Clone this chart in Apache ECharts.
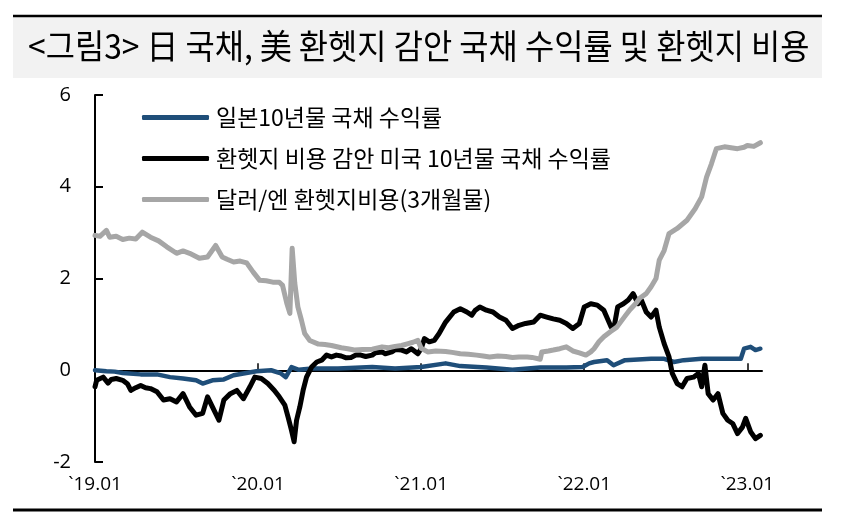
<!DOCTYPE html>
<html>
<head>
<meta charset="utf-8">
<script src="https://cdn.jsdelivr.net/npm/echarts@6/dist/echarts.min.js"></script>
<style>
  html, body { margin: 0; padding: 0; background: #fff; }
  #chart { width: 863px; height: 516px; }
</style>
</head>
<body>
<div id="chart"></div>
<script>
// x = decimal year, y = %
const yearTicks = [2019, 2020, 2021, 2022, 2023];
const seriesNames = ["일본10년물 국채 수익률", "환헷지 비용 감안 미국 10년물 국채 수익률", "달러/엔 환헷지비용(3개월물)"];

const jgbX = [2019.00, 2019.07, 2019.12, 2019.17, 2019.28, 2019.38, 2019.46, 2019.54, 2019.62, 2019.66,
  2019.72, 2019.79, 2019.85, 2019.91, 2019.99, 2020.08, 2020.14, 2020.17, 2020.205, 2020.25,
  2020.33, 2020.49, 2020.70, 2020.84, 2021.00, 2021.15, 2021.24, 2021.40, 2021.56, 2021.73,
  2021.89, 2021.99, 2022.03, 2022.06, 2022.14, 2022.18, 2022.25, 2022.41, 2022.49, 2022.55,
  2022.61, 2022.72, 2022.82, 2022.96, 2022.98, 2023.02, 2023.05, 2023.08];
const jgbY = [0.00, -0.02, -0.03, -0.06, -0.09, -0.09, -0.15, -0.18, -0.22, -0.29,
  -0.22, -0.20, -0.11, -0.07, -0.02, 0.00, -0.07, -0.15, 0.07, 0.01,
  0.04, 0.04, 0.07, 0.04, 0.07, 0.15, 0.09, 0.06, 0.01, 0.06,
  0.06, 0.07, 0.15, 0.18, 0.22, 0.11, 0.22, 0.25, 0.25, 0.18,
  0.22, 0.25, 0.25, 0.25, 0.47, 0.51, 0.44, 0.47];

const usHedgedX = [2019.00, 2019.01, 2019.05, 2019.08, 2019.10, 2019.13, 2019.17, 2019.20, 2019.22, 2019.25,
  2019.28, 2019.31, 2019.34, 2019.38, 2019.42, 2019.46, 2019.50, 2019.54, 2019.58, 2019.62,
  2019.66, 2019.69, 2019.72, 2019.76, 2019.79, 2019.83, 2019.87, 2019.91, 2019.95, 2019.98,
  2020.02, 2020.06, 2020.10, 2020.13, 2020.164, 2020.184, 2020.205, 2020.221, 2020.236, 2020.256,
  2020.276, 2020.297, 2020.328, 2020.36, 2020.39, 2020.42, 2020.45, 2020.48, 2020.51, 2020.54,
  2020.57, 2020.60, 2020.63, 2020.66, 2020.70, 2020.72, 2020.76, 2020.78, 2020.82, 2020.84,
  2020.88, 2020.91, 2020.94, 2020.98, 2021.00, 2021.02, 2021.05, 2021.08, 2021.11, 2021.15,
  2021.20, 2021.24, 2021.28, 2021.31, 2021.33, 2021.36, 2021.40, 2021.44, 2021.48, 2021.52,
  2021.56, 2021.60, 2021.64, 2021.69, 2021.73, 2021.77, 2021.81, 2021.85, 2021.89, 2021.93,
  2021.97, 2022.00, 2022.04, 2022.08, 2022.12, 2022.165, 2022.185, 2022.205, 2022.24, 2022.27,
  2022.30, 2022.33, 2022.35, 2022.38, 2022.41, 2022.44, 2022.46, 2022.49, 2022.52, 2022.54,
  2022.57, 2022.60, 2022.63, 2022.67, 2022.70, 2022.72, 2022.74, 2022.76, 2022.79, 2022.82,
  2022.85, 2022.88, 2022.91, 2022.94, 2022.97, 2022.99, 2023.02, 2023.05, 2023.08];
const usHedgedY = [-0.36, -0.22, -0.15, -0.28, -0.20, -0.18, -0.22, -0.30, -0.44, -0.38,
  -0.33, -0.38, -0.40, -0.47, -0.65, -0.62, -0.69, -0.51, -0.80, -0.98,
  -0.94, -0.58, -0.80, -1.09, -0.65, -0.51, -0.44, -0.62, -0.36, -0.15,
  -0.18, -0.29, -0.44, -0.58, -0.76, -1.02, -1.31, -1.56, -1.09, -0.80,
  -0.44, -0.15, 0.07, 0.18, 0.22, 0.33, 0.29, 0.33, 0.31, 0.27,
  0.28, 0.33, 0.33, 0.30, 0.33, 0.38, 0.40, 0.36, 0.40, 0.45,
  0.44, 0.40, 0.47, 0.36, 0.47, 0.69, 0.62, 0.65, 0.80, 1.05,
  1.27, 1.34, 1.27, 1.20, 1.30, 1.38, 1.31, 1.27, 1.16, 1.09,
  0.91, 0.98, 1.02, 1.05, 1.20, 1.16, 1.12, 1.09, 1.02, 0.91,
  1.02, 1.38, 1.45, 1.42, 1.31, 0.94, 0.98, 1.38, 1.45, 1.53,
  1.67, 1.45, 1.53, 1.27, 1.16, 1.31, 0.94, 0.58, 0.29, -0.07,
  -0.29, -0.36, -0.18, -0.15, -0.07, -0.36, 0.11, -0.51, -0.65, -0.51,
  -0.94, -1.09, -1.16, -1.38, -1.24, -1.05, -1.34, -1.49, -1.42];

const hedgeCostX = [2019.00, 2019.03, 2019.07, 2019.09, 2019.13, 2019.17, 2019.21, 2019.25, 2019.29, 2019.34,
  2019.39, 2019.44, 2019.50, 2019.54, 2019.58, 2019.64, 2019.69, 2019.74, 2019.78, 2019.81,
  2019.85, 2019.89, 2019.93, 2019.97, 2020.01, 2020.05, 2020.09, 2020.13, 2020.15, 2020.176,
  2020.195, 2020.209, 2020.225, 2020.244, 2020.266, 2020.286, 2020.317, 2020.37, 2020.41, 2020.45,
  2020.51, 2020.55, 2020.59, 2020.64, 2020.70, 2020.76, 2020.80, 2020.84, 2020.88, 2020.92,
  2020.95, 2020.98, 2021.00, 2021.04, 2021.09, 2021.15, 2021.19, 2021.24, 2021.29, 2021.34,
  2021.38, 2021.42, 2021.47, 2021.52, 2021.56, 2021.60, 2021.65, 2021.68, 2021.73, 2021.74,
  2021.78, 2021.81, 2021.85, 2021.89, 2021.93, 2021.97, 2022.01, 2022.04, 2022.06, 2022.09,
  2022.12, 2022.16, 2022.20, 2022.25, 2022.28, 2022.32, 2022.34, 2022.38, 2022.41, 2022.44,
  2022.46, 2022.49, 2022.52, 2022.57, 2022.63, 2022.68, 2022.72, 2022.75, 2022.78, 2022.81,
  2022.86, 2022.90, 2022.94, 2022.98, 2023.00, 2023.04, 2023.08];
const hedgeCostY = [2.94, 2.92, 3.05, 2.90, 2.92, 2.85, 2.88, 2.86, 3.01, 2.90,
  2.82, 2.69, 2.55, 2.60, 2.55, 2.44, 2.47, 2.72, 2.47, 2.42,
  2.36, 2.38, 2.34, 2.14, 1.96, 1.95, 1.92, 1.92, 1.85, 1.46,
  1.24, 2.66, 1.90, 1.38, 1.09, 0.80, 0.65, 0.57, 0.56, 0.54,
  0.49, 0.47, 0.44, 0.45, 0.46, 0.51, 0.49, 0.52, 0.54, 0.58,
  0.61, 0.65, 0.48, 0.40, 0.42, 0.41, 0.39, 0.36, 0.35, 0.33,
  0.31, 0.29, 0.31, 0.30, 0.28, 0.29, 0.29, 0.28, 0.24, 0.40,
  0.42, 0.44, 0.47, 0.51, 0.42, 0.38, 0.33, 0.40, 0.47, 0.62,
  0.73, 0.84, 0.94, 1.18, 1.32, 1.47, 1.57, 1.67, 1.82, 2.00,
  2.40, 2.61, 2.98, 3.09, 3.27, 3.52, 3.78, 4.21, 4.50, 4.83,
  4.87, 4.85, 4.83, 4.86, 4.90, 4.88, 4.96];

function zip(xs, ys) {
  return xs.map((x, i) => [x, ys[i]]);
}

const chart = echarts.init(document.getElementById("chart"), null, { renderer: "canvas" });

const titleText = "<그림3> 日 국채, 美 환헷지 감안 국채 수익률 및 환헷지 비용";
const numFont = "'Open Sans', 'Noto Sans CJK KR', sans-serif";
const krFont = "'Noto Sans CJK KR', sans-serif";

const lineSeries = (name, data, color, width) => ({
  name: name,
  type: "line",
  data: data,
  showSymbol: false,
  symbol: "none",
  smooth: false,
  lineStyle: { color: color, width: width, cap: "round", join: "round" },
  itemStyle: { color: color },
  emphasis: { disabled: true },
  animation: false
});

chart.setOption({
  backgroundColor: "#fff",
  animation: false,
  graphic: [
    { type: "rect", shape: { x: 13, y: 17, width: 809, height: 61 }, style: { fill: "#F2F2F2" } },
    { type: "line", shape: { x1: 13, y1: 16, x2: 822, y2: 16 }, style: { stroke: "#000", lineWidth: 2.5 } },
    { type: "line", shape: { x1: 13, y1: 510, x2: 822, y2: 510 }, style: { stroke: "#000", lineWidth: 3 } },
    {
      type: "group", x: 28, y: 46, scaleX: 0.935,
      children: [{
        type: "text",
        style: { text: titleText, x: 0, y: 0, fill: "#000", font: "34px " + krFont, verticalAlign: "middle", align: "left" }
      }]
    }
  ],
  legend: {
    orient: "vertical",
    left: 137,
    top: 101,
    itemWidth: 67,
    itemHeight: 5,
    itemGap: 18,
    icon: "roundRect",
    data: [seriesNames[0], seriesNames[1], seriesNames[2]],
    textStyle: { fontFamily: krFont, fontSize: 23, color: "#000", padding: [0, 0, 0, 2] },
    selectedMode: false
  },
  grid: { left: 95, right: 101, top: 95, bottom: 54, containLabel: false },
  xAxis: [
    {
      type: "value", min: 2019, max: 2023.09, position: "bottom",
      axisLine: { show: true, onZero: true, lineStyle: { color: "#000", width: 2 } },
      axisTick: { show: true, inside: true, length: 7, customValues: yearTicks, lineStyle: { color: "#000", width: 1.5 } },
      axisLabel: { show: false },
      splitLine: { show: false }
    },
    {
      type: "value", min: 2019, max: 2023.09, position: "bottom",
      axisLine: { show: false, onZero: false },
      axisTick: { show: false },
      axisLabel: {
        show: true, margin: 13, customValues: yearTicks,
        fontFamily: numFont, fontSize: 19, color: "#000",
        formatter: (v) => "`" + String(Math.round(v)).slice(2) + ".01"
      },
      splitLine: { show: false }
    }
  ],
  yAxis: {
    type: "value", min: -2, max: 6, interval: 2,
    axisLine: { show: true, onZero: false, lineStyle: { color: "#000", width: 2 } },
    axisTick: { show: true, inside: true, length: 8, lineStyle: { color: "#000", width: 2 } },
    axisLabel: { margin: 24, fontFamily: numFont, fontSize: 20, color: "#000" },
    splitLine: { show: false }
  },
  series: [
    lineSeries(seriesNames[0], zip(jgbX, jgbY), "#1F4E79", 4.5),
    lineSeries(seriesNames[1], zip(usHedgedX, usHedgedY), "#000000", 5),
    lineSeries(seriesNames[2], zip(hedgeCostX, hedgeCostY), "#A6A6A6", 5)
  ]
});

window.addEventListener("resize", () => {
  chart.resize();
});
</script>
</body>
</html>
